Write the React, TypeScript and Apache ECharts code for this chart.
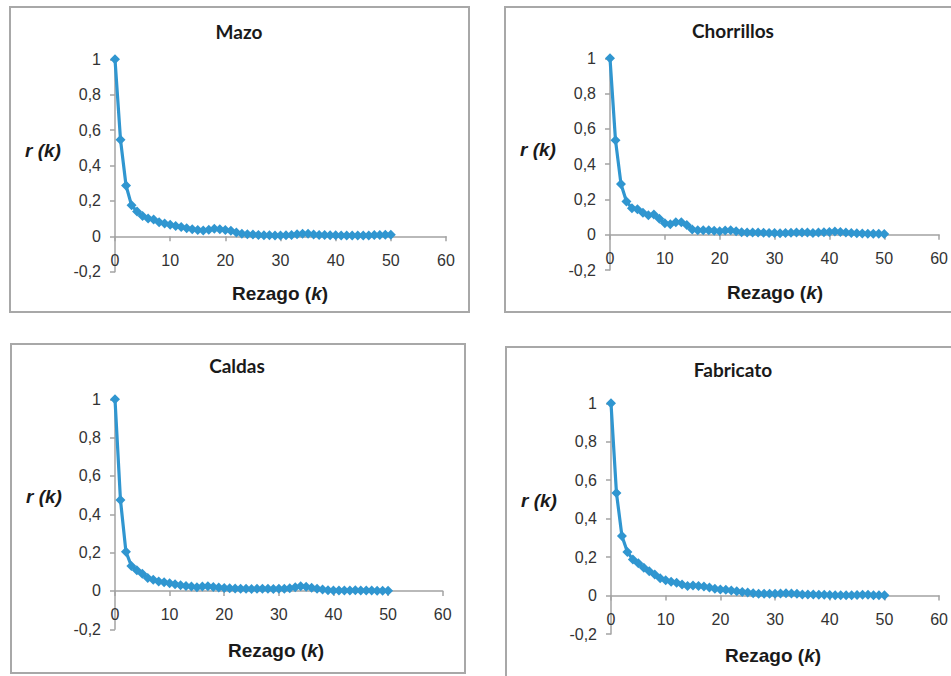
import React, { useEffect, useRef } from "react";
import * as echarts from "echarts";

const lags = [0,1,2,3,4,5,6,7,8,9,10,11,12,13,14,15,16,17,18,19,20,21,22,23,24,25,26,27,28,29,30,31,32,33,34,35,36,37,38,39,40,41,42,43,44,45,46,47,48,49,50];

const mazo = [1.0,0.545,0.287,0.175,0.14,0.115,0.1,0.095,0.08,0.072,0.065,0.058,0.052,0.046,0.04,0.035,0.033,0.037,0.043,0.04,0.036,0.032,0.022,0.015,0.012,0.01,0.008,0.006,0.006,0.005,0.005,0.006,0.008,0.012,0.015,0.014,0.01,0.008,0.007,0.006,0.006,0.005,0.005,0.005,0.004,0.004,0.005,0.007,0.008,0.009,0.009];

const chorrillos = [1.0,0.536,0.288,0.188,0.15,0.145,0.125,0.11,0.115,0.09,0.065,0.06,0.07,0.07,0.055,0.03,0.025,0.026,0.025,0.022,0.02,0.024,0.026,0.02,0.014,0.013,0.013,0.012,0.011,0.01,0.01,0.009,0.01,0.011,0.012,0.013,0.012,0.01,0.012,0.014,0.016,0.018,0.016,0.012,0.01,0.008,0.007,0.006,0.005,0.005,0.004];

const caldas = [1.0,0.475,0.205,0.13,0.108,0.09,0.068,0.058,0.05,0.045,0.04,0.035,0.03,0.026,0.023,0.02,0.023,0.024,0.021,0.018,0.016,0.014,0.013,0.012,0.011,0.01,0.011,0.012,0.011,0.01,0.011,0.012,0.014,0.02,0.025,0.022,0.017,0.012,0.008,0.004,0.002,0.002,0.003,0.003,0.004,0.003,0.002,0.002,0.001,0.001,0.001];

const fabricato = [1.0,0.533,0.31,0.227,0.187,0.168,0.145,0.127,0.11,0.09,0.08,0.072,0.066,0.058,0.05,0.052,0.05,0.047,0.042,0.035,0.031,0.03,0.026,0.022,0.019,0.016,0.012,0.01,0.01,0.009,0.009,0.011,0.012,0.011,0.009,0.006,0.005,0.005,0.004,0.004,0.003,0.002,0.001,0.001,0.002,0.003,0.004,0.004,0.002,0.001,0.001];

const titles = ["Mazo", "Chorrillos", "Caldas", "Fabricato"];
const seriesValues = [mazo, chorrillos, caldas, fabricato];
const xTicks = { min: 0, max: 60, interval: 10 };
const yTicks = { min: -0.2, max: 1, interval: 0.2 };

// layout (px)
const panels = [
  { box: [10, 7, 459, 305], grid: [115, 59.3, 331, 212.4], title: [239, 31], yName: [43, 150], xName: [280, 293] },
  { box: [505, 7, 460, 305], grid: [610, 58.3, 330, 211.7], title: [733, 30], yName: [538, 149], xName: [775, 292] },
  { box: [11, 344, 454, 329], grid: [115, 399.3, 327.7, 230], title: [237, 365], yName: [44, 496], xName: [276, 650] },
  { box: [506, 347, 460, 340], grid: [611, 403.3, 330, 230.7], title: [733, 369], yName: [539, 500], xName: [773, 655] },
];

const AXIS_COLOR = "#a3a3a3";
const LINE_COLOR = "#3096d0";
const SANS = "'Liberation Sans', Arial, sans-serif";

function fmtY(v: number) {
  const r = Math.round(v * 10) / 10;
  if (r === 0) return "0";
  return String(r).replace(".", ",");
}

export default function App() {
  const ref = useRef<HTMLDivElement>(null);
  useEffect(() => {
    if (!ref.current) return;
    const chart = echarts.init(ref.current, undefined, { renderer: "svg" });
    const grids: any[] = [];
    const xAxes: any[] = [];
    const yAxes: any[] = [];
    const series: any[] = [];
    const graphic: any[] = [];
    panels.forEach((p, i) => {
      const h = p.grid[3];
      // move the x axis up to the y = 0 level
      const zeroOffset = -h * (0 - yTicks.min) / (yTicks.max - yTicks.min);
      grids.push({ left: p.grid[0], top: p.grid[1], width: p.grid[2], height: h, containLabel: false });
      xAxes.push({
        type: "value", gridIndex: i, min: xTicks.min, max: xTicks.max, interval: xTicks.interval,
        position: "bottom", offset: zeroOffset,
        axisLine: { show: true, onZero: false, lineStyle: { color: AXIS_COLOR, width: 1.5 } },
        axisTick: { show: true, length: 5, lineStyle: { color: AXIS_COLOR, width: 1.5 } },
        axisLabel: { margin: 16, color: "#333", fontSize: 16, fontFamily: SANS },
        splitLine: { show: false },
      });
      yAxes.push({
        type: "value", gridIndex: i, min: yTicks.min, max: yTicks.max, interval: yTicks.interval,
        axisLine: { show: true, onZero: false, lineStyle: { color: AXIS_COLOR, width: 1.5 } },
        axisTick: { show: true, length: 5, lineStyle: { color: AXIS_COLOR, width: 1.5 } },
        axisLabel: { margin: 14, color: "#333", fontSize: 16, fontFamily: SANS, formatter: fmtY },
        splitLine: { show: false },
      });
      series.push({
        type: "line", xAxisIndex: i, yAxisIndex: i,
        data: lags.map((k, j) => [k, seriesValues[i][j]]),
        symbol: "diamond", symbolSize: 10, showSymbol: true,
        lineStyle: { color: LINE_COLOR, width: 3.2 },
        itemStyle: { color: LINE_COLOR },
      });
      graphic.push({
        type: "rect", shape: { x: p.box[0], y: p.box[1], width: p.box[2], height: p.box[3] },
        style: { fill: "none", stroke: "#a8a8a8", lineWidth: 2 }, z: -1,
      });
      graphic.push({
        type: "text", x: p.title[0], y: p.title[1],
        style: { text: titles[i], font: "bold 19px Lato, 'Open Sans', sans-serif", fill: "#1a1a1a", align: "center", verticalAlign: "middle" },
      });
      graphic.push({
        type: "text", x: p.yName[0], y: p.yName[1],
        style: { text: "r (k)", font: "italic bold 19px " + SANS, fill: "#1a1a1a", align: "center", verticalAlign: "middle" },
      });
      graphic.push({
        type: "text", x: p.xName[0], y: p.xName[1],
        style: {
          text: "{a|Rezago (}{b|k}{a|)}", align: "center", verticalAlign: "middle",
          rich: {
            a: { font: "bold 19px " + SANS, fill: "#1a1a1a" },
            b: { font: "italic bold 19px " + SANS, fill: "#1a1a1a" },
          },
        },
      });
    });
    chart.setOption({
      animation: false,
      backgroundColor: "#ffffff",
      grid: grids, xAxis: xAxes, yAxis: yAxes, series, graphic,
    });
    return () => chart.dispose();
  }, []);
  return <div ref={ref} style={{ position: "absolute", left: 0, top: 0, width: 951, height: 676 }} />;
}
